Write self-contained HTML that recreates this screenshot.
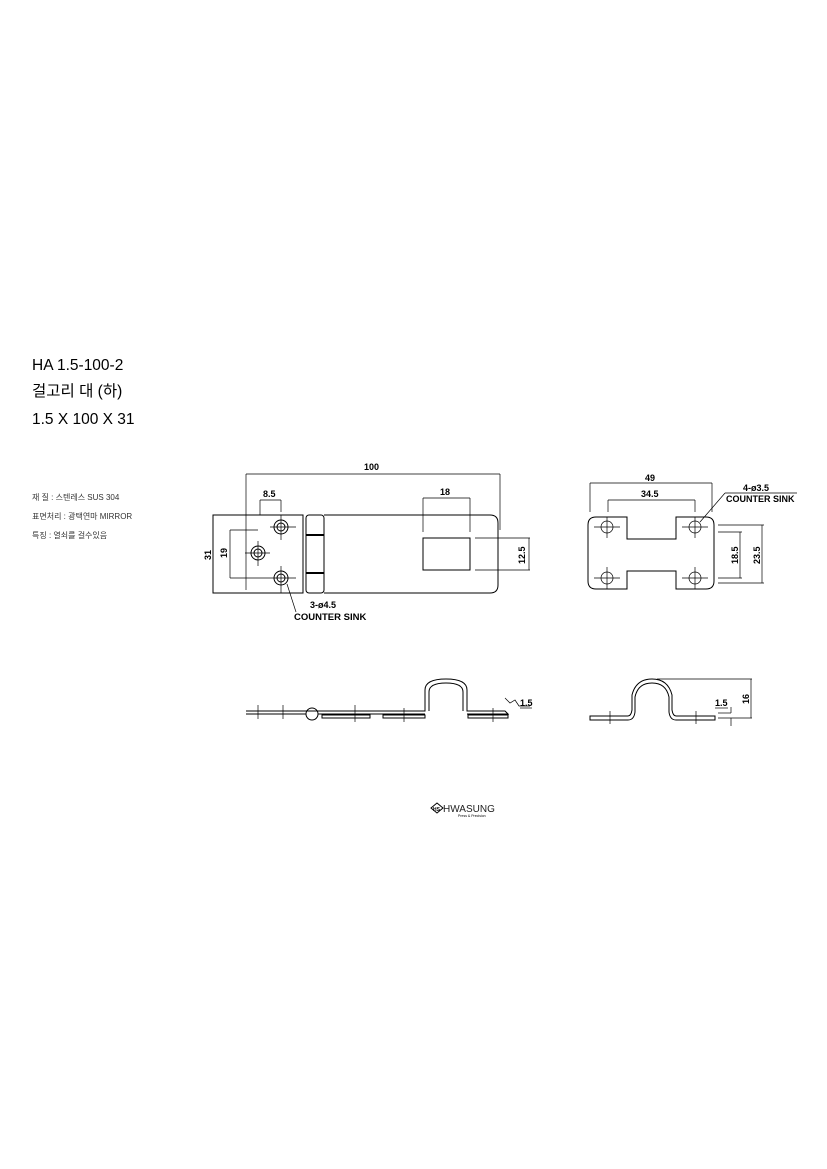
<!DOCTYPE html>
<html><head><meta charset="utf-8"><style>
html,body{margin:0;padding:0;background:#fff}
svg{display:block}
.t{font-family:"Liberation Sans","Noto Sans CJK KR",sans-serif}
</style></head><body>
<svg width="827" height="1169" viewBox="0 0 827 1169" xmlns="http://www.w3.org/2000/svg">
<g class="t" fill="#000">
<text x="32" y="370" font-size="15.5">HA 1.5-100-2</text>
<text x="32" y="396" font-size="15.5">걸고리 대 (하)</text>
<text x="32" y="424" font-size="15.5">1.5 X 100 X 31</text>
<text x="32" y="500" font-size="8" fill="#333">재 질 : 스텐레스 SUS 304</text>
<text x="32" y="519" font-size="8" fill="#333">표면처리 : 광택연마 MIRROR</text>
<text x="32" y="538" font-size="8" fill="#333">특징 : 열쇠를 걸수있음</text>
</g>
<g fill="none" stroke="#000" stroke-width="1">
<!-- front view -->
<rect x="213" y="515" width="90" height="78"/>
<rect x="306" y="515" width="18" height="78" rx="3"/>
<line x1="306" y1="535" x2="324" y2="535" stroke-width="2"/>
<line x1="306" y1="573" x2="324" y2="573" stroke-width="2"/>
<path d="M324 515 H490 Q498 515 498 523 V585 Q498 593 490 593 H324"/>
<rect x="423" y="538" width="47" height="32"/>
<circle cx="281" cy="527" r="7"/><circle cx="281" cy="527" r="4"/>
<circle cx="258" cy="553" r="7"/><circle cx="258" cy="553" r="4"/>
<circle cx="281" cy="578" r="7"/><circle cx="281" cy="578" r="4"/>
<g stroke-width="0.7">
<line x1="270" y1="527" x2="296" y2="527"/><line x1="281" y1="515" x2="281" y2="540"/>
<line x1="245" y1="553" x2="270" y2="553"/><line x1="258" y1="541" x2="258" y2="566"/>
<line x1="270" y1="578" x2="296" y2="578"/><line x1="281" y1="566" x2="281" y2="593"/>
<line x1="246" y1="474" x2="500" y2="474"/><line x1="246" y1="474" x2="246" y2="590"/><line x1="500" y1="474" x2="500" y2="530"/>
<line x1="260" y1="500" x2="281" y2="500"/><line x1="260" y1="500" x2="260" y2="515"/><line x1="281" y1="500" x2="281" y2="512"/>
<line x1="423" y1="498" x2="470" y2="498"/><line x1="423" y1="498" x2="423" y2="532"/><line x1="470" y1="498" x2="470" y2="532"/>
<line x1="475" y1="538" x2="530" y2="538"/><line x1="475" y1="570" x2="530" y2="570"/><line x1="529" y1="538" x2="529" y2="570"/>
<line x1="230" y1="530" x2="258" y2="530"/><line x1="230" y1="578" x2="270" y2="578"/><line x1="230" y1="530" x2="230" y2="578"/>
<line x1="287" y1="584" x2="296" y2="612"/>
</g>
<!-- right plan view -->
<path d="M596 517 H627 V539 H676 V517 H706 Q714 517 714 525 V581 Q714 589 706 589 H676 V571 H627 V589 H596 Q588 589 588 581 V525 Q588 517 596 517 Z"/>
<g stroke-width="0.7">
<circle cx="607" cy="527" r="6"/><circle cx="695" cy="527" r="6"/><circle cx="607" cy="578" r="6"/><circle cx="695" cy="578" r="6"/>
<line x1="594" y1="527" x2="620" y2="527"/><line x1="607" y1="517" x2="607" y2="538"/>
<line x1="682" y1="527" x2="708" y2="527"/><line x1="695" y1="517" x2="695" y2="538"/>
<line x1="594" y1="578" x2="620" y2="578"/><line x1="607" y1="567" x2="607" y2="589"/>
<line x1="682" y1="578" x2="708" y2="578"/><line x1="695" y1="567" x2="695" y2="589"/>
<line x1="590" y1="483" x2="712" y2="483"/><line x1="590" y1="483" x2="590" y2="512"/><line x1="712" y1="483" x2="712" y2="512"/>
<line x1="608" y1="500" x2="695" y2="500"/><line x1="608" y1="500" x2="608" y2="512"/><line x1="695" y1="500" x2="695" y2="512"/>
<line x1="718" y1="525" x2="764" y2="525"/><line x1="718" y1="583" x2="764" y2="583"/>
<line x1="718" y1="532" x2="742" y2="532"/><line x1="718" y1="578" x2="742" y2="578"/>
<line x1="740" y1="532" x2="740" y2="578"/><line x1="762" y1="525" x2="762" y2="583"/>
<line x1="700" y1="522" x2="725" y2="493"/><line x1="725" y1="493" x2="797" y2="493"/>
</g>
<!-- side view left -->
<path d="M246 711 H425 V690 Q425 679 446 679 Q467 679 467 690 V711 H505 L508 714 H467" />
<path d="M246 714 H306"/>
<circle cx="312" cy="714" r="6"/>
<path d="M318 714 H425 M429 711 V692 Q429 683 446 683 Q463 683 463 692 V711"/>
<rect x="322" y="715" width="48" height="3"/>
<rect x="383" y="715" width="42" height="3"/>
<rect x="468" y="715" width="40" height="3"/>
<g stroke-width="0.7"><line x1="258" y1="705" x2="258" y2="719"/><line x1="283" y1="705" x2="283" y2="719"/><line x1="355" y1="705" x2="355" y2="722"/><line x1="404" y1="708" x2="404" y2="722"/><line x1="493" y1="708" x2="493" y2="722"/>
<path d="M505 698 L510 703 L515 700 L519 706 H530"/></g>
<!-- side view right -->
<path d="M590 716 H628 Q631 716 632 710 V695 Q636 679 652 679 Q668 679 672 695 V710 Q673 716 676 716 H715 V720 H676 Q670 720 669 712 V697 Q666 683 652 683 Q638 683 635 697 V712 Q634 720 628 720 H590 Z"/>
<g stroke-width="0.7">
<line x1="657" y1="679" x2="752" y2="679"/><line x1="751" y1="679" x2="751" y2="718"/><line x1="718" y1="718" x2="752" y2="718"/>
<line x1="718" y1="713" x2="731" y2="713"/><line x1="731" y1="707" x2="731" y2="713"/><line x1="731" y1="718" x2="731" y2="726"/>
<line x1="610" y1="711" x2="610" y2="724"/><line x1="696" y1="711" x2="696" y2="724"/>
</g>
</g>
<g font-family="Liberation Sans,sans-serif" font-weight="bold" font-size="9" fill="#000">
<text x="364" y="470">100</text>
<text x="263" y="497">8.5</text>
<text x="440" y="495">18</text>
<text transform="translate(525 564) rotate(-90)">12.5</text>
<text transform="translate(211 560) rotate(-90)">31</text>
<text transform="translate(227 558) rotate(-90)">19</text>
<text x="310" y="608">3-ø4.5</text>
<text x="294" y="620" font-size="9.5">COUNTER SINK</text>
<text x="645" y="481">49</text>
<text x="641" y="497">34.5</text>
<text x="743" y="491">4-ø3.5</text>
<text x="726" y="502">COUNTER SINK</text>
<text transform="translate(738 564) rotate(-90)">18.5</text>
<text transform="translate(760 564) rotate(-90)">23.5</text>
<text x="520" y="706">1.5</text>
<text x="715" y="706">1.5</text>
<text transform="translate(749 704) rotate(-90)">16</text>
</g>
<line x1="520" y1="708" x2="532" y2="708" stroke="#000" stroke-width="0.7"/>
<line x1="715" y1="708" x2="728" y2="708" stroke="#000" stroke-width="0.7"/>
<!-- logo -->
<g>
<path d="M431 808 L437 803 L443 808 L437 813 Z" fill="none" stroke="#000"/>
<text x="433" y="811" font-family="Liberation Sans,sans-serif" font-size="5" font-weight="bold">HS</text>
<text x="443" y="812" font-family="Liberation Sans,sans-serif" font-size="10" fill="#222">HWASUNG</text>
<text x="458" y="817" font-family="Liberation Sans,sans-serif" font-size="3.5">Press &amp; Precision</text>
</g>
</svg>
</body></html>
